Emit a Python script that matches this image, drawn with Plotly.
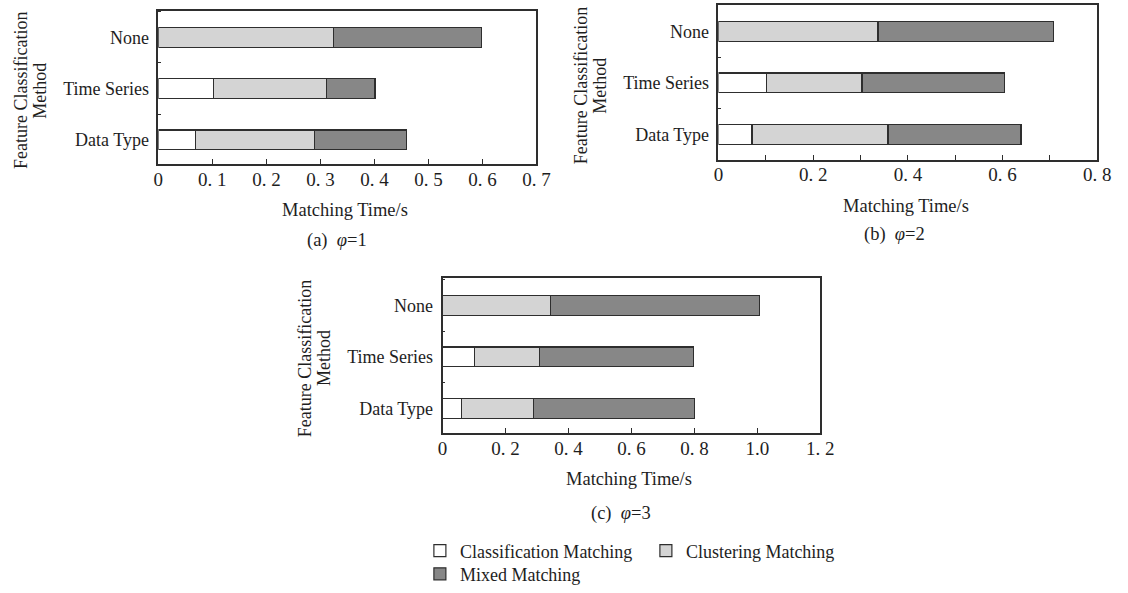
import plotly.graph_objects as go

W, H = 1128, 593

categories = ["Data Type", "Time Series", "None"]
series_names = ["Classification Matching", "Clustering Matching", "Mixed Matching"]

# segment lengths (s), order follows `categories`
a_classification = [0.069, 0.102, 0.0]
a_clustering = [0.220, 0.210, 0.324]
a_mixed = [0.171, 0.089, 0.274]

b_classification = [0.071, 0.101, 0.0]
b_clustering = [0.287, 0.202, 0.337]
b_mixed = [0.281, 0.301, 0.371]

c_classification = [0.060, 0.101, 0.0]
c_clustering = [0.229, 0.206, 0.343]
c_mixed = [0.512, 0.491, 0.663]

a_tickvals = [0, 0.1, 0.2, 0.3, 0.4, 0.5, 0.6, 0.7]
a_ticktext = ["0", "0. 1", "0. 2", "0. 3", "0. 4", "0. 5", "0. 6", "0. 7"]
b_tickvals = [0, 0.2, 0.4, 0.6, 0.8]
b_ticktext = ["0", "0. 2", "0. 4", "0. 6", "0. 8"]
c_tickvals = [0, 0.2, 0.4, 0.6, 0.8, 1.0, 1.2]
c_ticktext = ["0", "0. 2", "0. 4", "0. 6", "0. 8", "1.0", "1. 2"]

subtitles = ["(a)  <i>φ</i>=1", "(b)  <i>φ</i>=2", "(c)  <i>φ</i>=3"]
x_title = "Matching Time/s"
y_title_lines = ["Feature Classification", "Method"]

colors = ["#ffffff", "#d4d4d4", "#878787"]
FONT = "Liberation Serif, Times New Roman, serif"
TXT = "#1e1e1e"
LINE = "#2e2e2e"


def px_x(v):
    return v / W


def px_y(v):
    return 1 - v / H


# panel frames in pixels: left, right, top, bottom
frames = [(156, 540.5, 10.7, 166), (725.7, 1111, 5, 161.7), (445, 829.3, 281, 438.3)]
yranges = [[-0.47, 2.52], [-0.49, 2.51], [-0.48, 2.54]]
xranges = [[0, 0.7], [0, 0.8], [0, 1.2]]
ticks = [(a_tickvals, a_ticktext, None), (b_tickvals, b_ticktext, 0.1), (c_tickvals, c_ticktext, None)]
data = [
    (a_classification, a_clustering, a_mixed),
    (b_classification, b_clustering, b_mixed),
    (c_classification, c_clustering, c_mixed),
]
sub_pos = [(338, 243), (905, 237), (627, 520)]

fig = go.Figure()
layout = dict()
annotations = []

for i in range(3):
    sx = "" if i == 0 else str(i + 1)
    for j, name in enumerate(series_names):
        tr = dict(
            x=data[i][j], y=categories, orientation="h", name=name,
            marker=dict(color=colors[j], line=dict(color=LINE, width=1.2)),
            width=0.385, xaxis="x" + sx, yaxis="y" + sx,
            showlegend=(i == 0), legendgroup=name, hoverinfo="x+y+name",
        )
        if i == 0:
            tr["legend"] = "legend" if j < 2 else "legend2"
        fig.add_trace(go.Bar(**tr))

    l, r, t, b = frames[i]
    tv, tt, minor = ticks[i]
    xa = dict(
        domain=[px_x(l), px_x(r)], range=xranges[i], anchor="y" + sx,
        tickvals=tv, ticktext=tt, ticks="inside", ticklen=5, tickwidth=1.2,
        tickcolor=LINE, showline=True, mirror=True, linecolor=LINE, linewidth=1.6,
        showgrid=False, zeroline=False, fixedrange=True, ticklabelstandoff=-3,
        tickfont=dict(family=FONT, size=19, color=TXT),
    )
    if minor:
        xa["minor"] = dict(dtick=minor, ticks="inside", ticklen=5, tickwidth=1.2, tickcolor=LINE, showgrid=False)
    ya = dict(
        domain=[px_y(b), px_y(t)], range=yranges[i], anchor="x" + sx,
        type="category", categoryorder="array", categoryarray=categories,
        tickson="boundaries", ticks="inside", ticklen=3, tickwidth=1.2, tickcolor=LINE,
        showline=True, mirror=True, linecolor=LINE, linewidth=1.6,
        showgrid=False, zeroline=False, fixedrange=True, ticklabelstandoff=4,
        tickfont=dict(family=FONT, size=18, color=TXT),
    )
    layout["xaxis" + sx] = xa
    layout["yaxis" + sx] = ya

    cx = (l + r) / 2 - 2
    annotations.append(dict(x=px_x(cx), y=px_y(b + 46.5), xref="paper", yref="paper",
                            text=x_title, showarrow=False, xanchor="center", yanchor="middle",
                            font=dict(family=FONT, size=18.5, color=TXT)))
    annotations.append(dict(x=px_x(sub_pos[i][0]), y=px_y(sub_pos[i][1]), xref="paper", yref="paper",
                            text=subtitles[i], showarrow=False, xanchor="center", yanchor="middle",
                            font=dict(family=FONT, size=18.5, color=TXT)))
    cy = (t + b) / 2 + 3
    for k, line in enumerate(y_title_lines):
        annotations.append(dict(x=px_x(l - 139 + 19 * k), y=px_y(cy), xref="paper", yref="paper",
                                text=line, showarrow=False, textangle=-90,
                                xanchor="center", yanchor="middle",
                                font=dict(family=FONT, size=18, color=TXT)))

legend_common = dict(
    orientation="h", xanchor="left", yanchor="middle", bgcolor="rgba(0,0,0,0)",
    font=dict(family=FONT, size=18, color=TXT), itemclick=False, itemdoubleclick=False,
    tracegroupgap=0,
)
fig.update_layout(
    **layout,
    barmode="stack",
    width=W, height=H,
    margin=dict(l=0, r=0, t=0, b=0),
    paper_bgcolor="white", plot_bgcolor="white",
    annotations=annotations,
    legend=dict(**legend_common, x=px_x(422), y=px_y(557.5), entrywidth=181, entrywidthmode="pixels"),
    legend2=dict(**legend_common, x=px_x(422), y=px_y(581)),
)

fig.write_html(
    "out.html",
    post_script="document.body.style.margin='0';document.body.style.overflow='hidden';"
                "document.documentElement.style.overflow='hidden';",
    config={"displayModeBar": False},
)
